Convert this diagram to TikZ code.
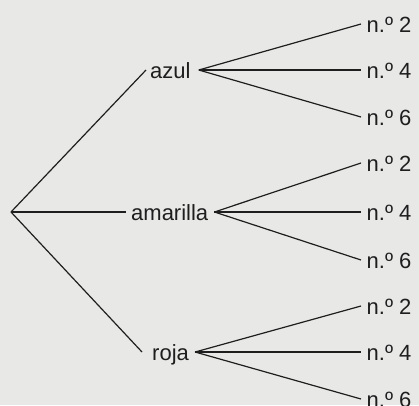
\documentclass[tikz,border=0pt]{standalone}
\usepackage{fontspec}
\setmainfont{Liberation Sans}
\definecolor{bg}{RGB}{232,233,231}
\definecolor{ink}{RGB}{30,30,30}
\begin{document}
\begin{tikzpicture}[x=1pt,y=-1pt,
  lbl/.style={font=\fontsize{22pt}{24pt}\selectfont, text=ink, inner xsep=0pt, inner ysep=0pt, text height=16pt, text depth=0pt, anchor=west},
  leaf/.style={lbl, inner xsep=5.5pt},
  conn/.style={draw=ink, line width=1.2pt}]
\fill[bg] (0,0) rectangle (419,405);
\useasboundingbox (0,0) rectangle (419,405);
\coordinate (root) at (11,212);
\node[lbl] (azul) at (150,70) {azul};
\node[lbl] (amarilla) at (131,212) {amarilla};
\node[lbl] (roja) at (152,352) {roja};
\draw[conn] (root) -- ([xshift=-4pt]azul.west);
\draw[conn] (root) -- ([xshift=-5pt]amarilla.west);
\draw[conn] (root) -- ([xshift=-10pt]roja.west);
% azul leaves
\node[leaf] (a2) at (361,24) {n.º 2};
\node[leaf] (a4) at (361,70) {n.º 4};
\node[leaf] (a6) at (361,117) {n.º 6};
\coordinate (az) at ([xshift=8pt]azul.east);
\draw[conn] (az) -- (a2.west);
\draw[conn] (az) -- (a4.west);
\draw[conn] (az) -- (a6.west);
% amarilla leaves
\node[leaf] (m2) at (361,163) {n.º 2};
\node[leaf] (m4) at (361,212) {n.º 4};
\node[leaf] (m6) at (361,260) {n.º 6};
\coordinate (am) at ([xshift=6pt]amarilla.east);
\draw[conn] (am) -- (m2.west);
\draw[conn] (am) -- (m4.west);
\draw[conn] (am) -- (m6.west);
% roja leaves
\node[leaf] (r2) at (361,306) {n.º 2};
\node[leaf] (r4) at (361,352) {n.º 4};
\node[leaf] (r6) at (361,399) {n.º 6};
\coordinate (ro) at ([xshift=6pt]roja.east);
\draw[conn] (ro) -- (r2.west);
\draw[conn] (ro) -- (r4.west);
\draw[conn] (ro) -- (r6.west);
\end{tikzpicture}
\end{document}
